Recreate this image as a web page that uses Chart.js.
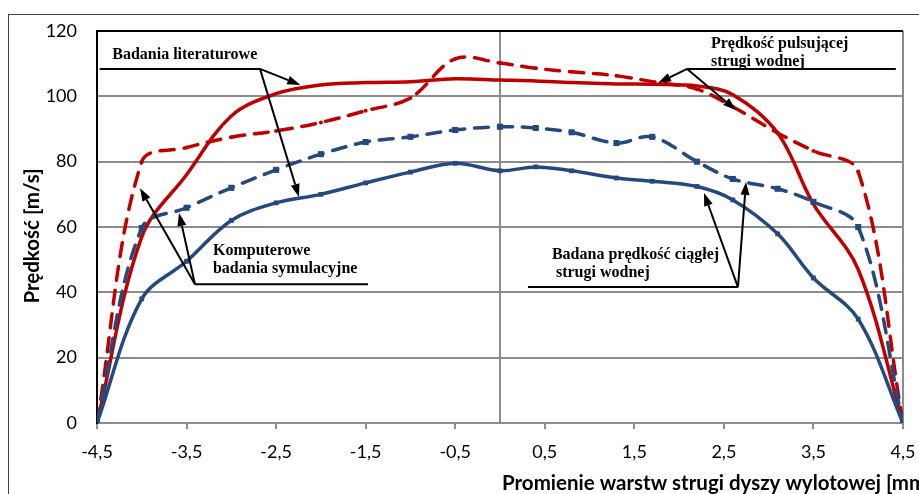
<!DOCTYPE html>
<html>
<head>
<meta charset="utf-8">
<script src="https://cdn.jsdelivr.net/npm/chart.js@4"></script>
<style>
  body { margin: 0; background: #fff; }
</style>
</head>
<body>
<canvas id="chart" width="919" height="494"></canvas>
<script>
// promień warstwy [mm]
const radii = [-4.5, -4.0, -3.5, -3.0, -2.5, -2.0, -1.5, -1.0, -0.5, 0, 0.4, 0.8, 1.3, 1.7, 2.2, 2.6, 3.1, 3.5, 4.0, 4.5]

// prędkości [m/s]
const ciaglaBadana = [0, 38, 49.5, 62, 67.4, 70, 73.5, 76.8, 79.5, 77.2, 78.4, 77.2, 75, 74, 72.4, 68.3, 57.9, 44.4, 31.8, 0]
const ciaglaSymulacja = [0, 59.7, 65.9, 72, 77.5, 82.3, 86, 87.6, 89.7, 90.7, 90.3, 89, 85.7, 87.6, 80, 74.7, 71.7, 67.7, 60, 0]
const pulsujacaBadana = [0, 57, 76, 94, 100.8, 103.5, 104.2, 104.5, 105.4, 105, 104.7, 104.2, 103.8, 103.7, 103.2, 100.5, 88.8, 67, 47, 0]
const pulsujacaSymulacja = [0, 80, 84.3, 87.5, 89.4, 92, 95.6, 99.5, 111.5, 110.2, 108.6, 107.5, 106.3, 104.5, 102.2, 96.8, 88.8, 83.3, 77, 0]

const xTicks = [-4.5, -3.5, -2.5, -1.5, -0.5, 0.5, 1.5, 2.5, 3.5, 4.5]
const xTickLabels = ['-4,5', '-3,5', '-2,5', '-1,5', '-0,5', '0,5', '1,5', '2,5', '3,5', '4,5']

const RED = '#C00000'
const BLUE = '#24497F'
const GRID = '#8C8C8C'

const toPoints = values => values.map((v, i) => ({ x: radii[i], y: v }))

// opisy ze strzałkami, w jednostkach osi
const notes = [
  { text: ['Badania literaturowe'], x: -4.33, y: 112.6,
    line: [-4.47, -2.68, 108.4], from: [-2.68, 108.4], to: [[-2.23, 103.5], [-2.245, 69.2]] },
  { text: ['Prędkość pulsującej', 'strugi wodnej'], x: 2.356, y: 116,
    line: [2.09, 4.42, 108.4], from: [2.09, 108.4], to: [[1.764, 104.1], [2.635, 95.8]] },
  { text: ['Komputerowe', 'badania symulacyjne'], x: -3.205, y: 52.6,
    line: [-3.406, -1.474, 42.5], from: [-3.406, 42.5], to: [[-4.02, 71.9], [-3.584, 64.3]] },
  { text: ['Badana prędkość ciągłej', ' strugi wodnej'], x: 0.58, y: 51.4,
    line: [0.312, 2.657, 41.6], from: [2.657, 41.6], to: [[2.278, 70.4], [2.747, 73.8]] },
]

function arrow(ctx, x1, y1, x2, y2) {
  const a = Math.atan2(y2 - y1, x2 - x1)
  const len = 13, half = 4.5
  const bx = x2 - len * Math.cos(a), by = y2 - len * Math.sin(a)
  ctx.beginPath()
  ctx.moveTo(x1, y1)
  ctx.lineTo(bx, by)
  ctx.stroke()
  ctx.beginPath()
  ctx.moveTo(x2, y2)
  ctx.lineTo(bx + half * Math.sin(a), by - half * Math.cos(a))
  ctx.lineTo(bx - half * Math.sin(a), by + half * Math.cos(a))
  ctx.closePath()
  ctx.fill()
}

const decorations = {
  id: 'decorations',
  beforeDraw(chart) {
    const ctx = chart.ctx
    ctx.save()
    ctx.strokeStyle = '#404040'
    ctx.lineWidth = 1
    ctx.strokeRect(8.5, 14.5, 1000, 1000)
    ctx.restore()
  },
  afterDraw(chart) {
    const ctx = chart.ctx
    const xs = chart.scales.x, ys = chart.scales.y
    const px = v => xs.getPixelForValue(v), py = v => ys.getPixelForValue(v)
    ctx.save()
    ctx.fillStyle = '#000'
    ctx.strokeStyle = '#000'
    ctx.lineWidth = 2
    ctx.font = 'bold 16px "Liberation Serif"'
    ctx.textBaseline = 'middle'
    ctx.textAlign = 'left'
    notes.forEach(n => {
      n.text.forEach((t, i) => ctx.fillText(t, px(n.x), py(n.y) + i * 18))
      ctx.beginPath()
      ctx.moveTo(px(n.line[0]), py(n.line[2]))
      ctx.lineTo(px(n.line[1]), py(n.line[2]))
      ctx.stroke()
      n.to.forEach(t => arrow(ctx, px(n.from[0]), py(n.from[1]), px(t[0]), py(t[1])))
    })

    // tytuły osi
    ctx.font = 'bold 20.5px Lato'
    ctx.fillText('Promienie warstw strugi dyszy wylotowej [mm]', 502, 483)
    ctx.translate(32, 236)
    ctx.rotate(-Math.PI / 2)
    ctx.textAlign = 'center'
    ctx.fillText('Prędkość [m/s]', 0, 0)
    ctx.restore()
  }
}

const line = (values, color, dashed, marker) => ({
  data: toPoints(values),
  borderColor: color,
  backgroundColor: color,
  borderWidth: 3.5,
  borderDash: dashed ? [14, 10] : [],
  borderCapStyle: 'round',
  tension: 0.35,
  pointStyle: marker.style,
  pointRadius: marker.r,
  pointBorderWidth: 0,
  pointBackgroundColor: color,
})

new Chart(document.getElementById('chart'), {
  type: 'line',
  data: {
    datasets: [
      line(ciaglaBadana, BLUE, false, { style: 'rect', r: 3.4 }),
      line(ciaglaSymulacja, BLUE, true, { style: 'rect', r: 4.3 }),
      line(pulsujacaBadana, RED, false, { style: 'circle', r: 0 }),
      line(pulsujacaSymulacja, RED, true, { style: 'circle', r: 2 }),
    ]
  },
  options: {
    responsive: false,
    animation: false,
    devicePixelRatio: 1,
    layout: { padding: { top: 31, right: 16, left: 0, bottom: 0 } },
    plugins: { legend: { display: false }, tooltip: { enabled: false } },
    scales: {
      x: {
        type: 'linear',
        min: -4.5,
        max: 4.5,
        afterFit: s => { s.height = 71; s.paddingLeft = 0; s.paddingRight = 0 },
        afterBuildTicks: s => { s.ticks = xTicks.concat([0]).sort((a, b) => a - b).map(v => ({ value: v })) },
        ticks: {
          autoSkip: false,
          maxRotation: 0,
          padding: 12,
          color: '#000',
          font: { family: 'Lato', size: 18 },
          callback: v => { const i = xTicks.indexOf(v); return i >= 0 ? xTickLabels[i] : '' }
        },
        grid: {
          lineWidth: 2,
          tickLength: 6,
          color: c => (c.tick && (c.tick.value === 0 || c.tick.value === 4.5)) ? GRID : 'transparent',
          tickColor: c => (c.tick && c.tick.value === 0) ? 'transparent' : GRID,
        },
        border: { color: GRID, width: 2 },
      },
      y: {
        min: 0,
        max: 120,
        afterFit: s => { s.width = 97; s.paddingTop = 0; s.paddingBottom = 0 },
        ticks: {
          stepSize: 20,
          padding: 20,
          color: '#000',
          font: { family: 'Lato', size: 18 },
        },
        grid: {
          drawTicks: false,
          lineWidth: 2,
          color: c => (c.tick && c.tick.value === 120) ? '#000' : GRID,
        },
        border: { color: '#000', width: 2 },
      }
    }
  },
  plugins: [decorations]
})
</script>
</body>
</html>
